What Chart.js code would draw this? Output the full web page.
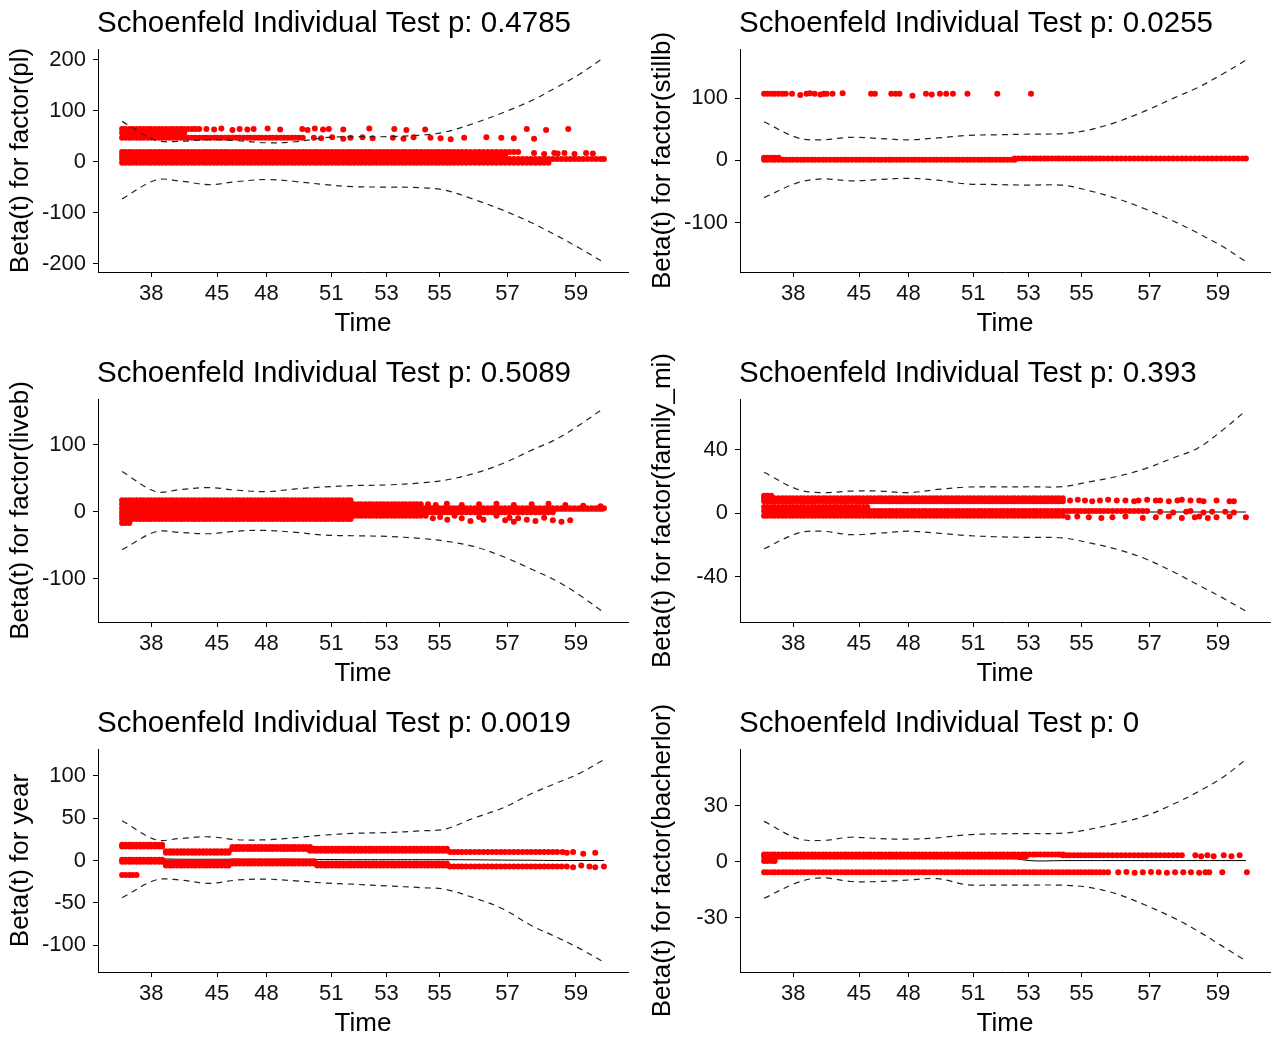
<!DOCTYPE html>
<html><head><meta charset="utf-8">
<script src="https://cdn.jsdelivr.net/npm/chart.js@4.4.0/dist/chart.umd.min.js"></script>
<style>
html,body{margin:0;padding:0;background:#fff;}
#wrap{position:relative;width:1274px;height:1039px;overflow:hidden;background:#fff;}
.panel{position:absolute;}
canvas{display:block;}
</style></head><body><div id="wrap"></div>
<script>
// ---------- shared data ----------
const titles = ['Schoenfeld Individual Test p: 0.4785','Schoenfeld Individual Test p: 0.0255','Schoenfeld Individual Test p: 0.5089','Schoenfeld Individual Test p: 0.393','Schoenfeld Individual Test p: 0.0019','Schoenfeld Individual Test p: 0'];
const yLabels = ['Beta(t) for factor(pl)','Beta(t) for factor(stillb)','Beta(t) for factor(liveb)','Beta(t) for factor(family_mi)','Beta(t) for year','Beta(t) for factor(bacherlor)'];
const xLabel = 'Time';
// transformed time positions of the tick labels
const timeTickPos = [6.06, 19.7, 29.95, 43.4, 54.9, 65.9, 80.0, 94.2];
const timeTickLabels = ['38','45','48','51','53','55','57','59'];
// transformed event times (shared by every covariate)
const eventX = [0,0.7,1.5,2.2,3.0,3.8,4.5,5.3,6.0,6.8,7.6,8.3,9.1,9.9,10.6,11.4,12.2,12.9,13.7,14.5,15.2,16.0,16.8,17.5,18.3,19.1,19.8,20.6,21.4,22.1,22.9,23.7,24.4,25.2,26.0,26.7,27.5,28.3,29.0,29.8,30.6,31.3,32.1,32.9,33.6,34.4,35.2,35.9,36.7,37.5,38.2,39.0,39.8,40.5,41.3,42.1,42.8,43.6,44.4,45.1,45.9,46.7,47.4,48.2,49.0,49.7,50.5,51.3,52.0,52.8,53.6,54.3,55.1,55.9,56.6,57.4,58.2,58.9,59.7,60.5,61.2,62.0,62.8,63.5,64.3,65.1,65.8,66.6,67.4,68.1,68.9,69.7,70.5,71.4,72.3,73.2,74.1,75.0,75.9,76.8,77.7,78.6,79.5,80.4,81.3,82.2,83.1,84.0,84.9,85.8,86.7,87.6,88.5,89.4,90.3,91.2,92.1,93.0,93.9,94.8,95.7,96.6,97.5,98.4,99.3,100];
// x positions of the fitted curve / confidence band
const ciX = [0, 7, 12, 18, 24, 30, 36, 42, 48, 55, 62, 67, 73, 79, 85, 90, 95, 100];

// ---------- panel 1: pl ----------
const plTicks = [200, 100, 0, -100, -200];
const plRange = [-216.5, 221];
const plRows = [[19,0,83],[12,0,80],[5,0,100],[-2,0,89],[64,0,16],[56,0,13],[47,0,38]]; // [residual, fromTime, toTime]
const plScatterX = [17.5,19.1,20.6,22.9,24.4,26.0,27.3,30.2,32.8,37.4,38.5,40.0,41.7,42.9,45.9,51.3,56.5,59.0,62.9,84.0,88.0,92.6,
  39.8,41.3,43.6,45.9,47.4,49.9,52.0,56.2,58.4,60.5,64.0,66.1,68.2,71.0,75.6,78.7,81.3,85.5,
  85.5,87.6,89.7,90.4,91.8,93.9,96.3,97.7];
const plScatterY = [64,63,65,62,64,63,64,65,63,64,62,65,63,64,63,65,64,62,63,64,62,64,
  47,46,48,45,47,48,46,47,45,48,47,46,44,47,48,47,46,45,
  17,15,17,16,17,15,17,16];
const plUpper = [79, 42, 40, 43, 41, 37, 39, 47, 49, 49, 52, 58, 75, 96, 120, 145, 172, 204];
const plLower = [-73, -36, -38, -45, -39, -35, -39, -45, -49, -50, -51, -56, -74, -95, -120, -144, -170, -198];
const plBeta = [3, 3, 2, 1, 1, 1, 1, 1, 1, 1, 1, 1, 1, 1, 2, 2, 2, 3];

// ---------- panel 2: stillb ----------
const stTicks = [100, 0, -100];
const stRange = [-179.7, 179];
const stRows = [[1,0,52],[3,52,100],[4,0,3],[107,0,5]];
const stScatterX = [5.8,7.5,8.8,9.5,10.5,11.7,12.4,13.0,14.2,16.3,22.2,23.0,26.4,27.3,28.1,30.8,33.6,34.8,36.5,37.8,39.2,42.2,48.4,55.4];
const stScatterY = [107,105,107,108,107,106,107,107,107,108,107,107,107,107,107,104,107,106,107,107,107,107,107,107];
const stUpper = [62, 36, 33, 37, 35, 33, 36, 40, 41, 42, 43, 48, 61, 79, 100, 117, 138, 161];
const stLower = [-60, -36, -30, -33, -31, -29, -32, -38, -39, -40, -40, -48, -61, -78, -98, -117, -138, -163];
const stBeta = [2, 1, 1, 1, 1, 1, 1, 1, 1, 1, 1, 1, 1, 1, 1, 1, 1, 1];

// ---------- panel 3: liveb ----------
const lbTicks = [100, 0, -100];
const lbRange = [-165, 168.5];
const lbRows = [[17,0,48],[11,0,62],[5,0,100],[-1,0,90],[-6,0,62],[-11,0,48],[-17,0,1.5]];
const lbScatterX = [63,64.5,66,67.5,69,70.5,72.3,74.1,75,77.7,79.5,80.4,81.3,82.2,84,85.8,87.6,89.4,91.2,93,
  63.5,65.1,67.4,70.5,74.1,77.7,81.3,85,88.5,92,95.7,99.3];
const lbScatterY = [-6,-10,-8,-12,-6,-10,-14,-8,-12,-6,-13,-9,-15,-10,-12,-14,-9,-13,-15,-13,
  11,10,12,10,11,12,10,11,12,10,9,8];
const lbUpper = [60, 30, 33, 36, 32, 30, 34, 37, 39, 40, 43, 47, 57, 72, 92, 108, 130, 155];
const lbLower = [-57, -30, -31, -33, -29, -28, -31, -35, -36, -37, -40, -44, -52, -67, -86, -103, -125, -151];
const lbBeta = [2, 2, 2, 2, 2, 2, 2, 2, 2, 1, 1, 1, 1, 1, 1, 1, 1, 1];

// ---------- panel 4: family_mi ----------
const fmTicks = [40, 0, -40];
const fmRange = [-68.5, 72];
const fmRows = [[11,0,1.5],[9.5,0,62],[7.5,0,62],[4,0,22],[1.5,0,80],[-1.5,0,62]];
const fmScatterX = [63.5,65.1,66.6,68.1,69.7,71.4,73.2,75,76.8,77.7,79.5,81.3,82.2,84,85.8,86.7,88.5,90.3,91.2,93.9,96.6,97.5,
  63,65,67.4,70,72.3,75,78.6,81.3,84,86.7,89.4,90.3,92.1,93.9,96.6,100,
  82.2,84.9,87.6,88.5,91.2,93,95.7,97.5];
const fmScatterY = [8,8.5,8,7.5,8,8.5,8,8,7.5,8,8.5,8,8,7.5,8,8.5,8,8,7.5,8,7.5,7.5,
  -2.5,-2,-2.5,-3,-2.5,-2,-3,-2.5,-2,-3,-2.5,-2,-3,-2.5,-2,-2.5,
  1,0.5,1,1.5,0.5,1,1,0.5];
const fmUpper = [25.8, 15, 13, 14, 14, 13, 15, 16.5, 16.6, 16.7, 16.8, 19.5, 23, 28, 35, 41, 52, 64.7];
const fmLower = [-22.4, -12.5, -11.3, -13.5, -12.5, -11.3, -12.5, -14, -14.8, -15.2, -15.5, -18.3, -22.5, -28.5, -37, -45, -53, -61.7];
const fmBeta = [1, 1, 1, 1, 1, 1, 1, 1, 1, 1, 0.8, 0.8, 0.8, 0.8, 0.8, 0.8, 0.8, 0.8];

// ---------- panel 5: year ----------
const yrTicks = [100, 50, 0, -50, -100];
const yrRange = [-131.6, 131.6];
const yrRows = [[18.5,0,8.6],[16.5,0,8.6],[11,8.6,22.2],[9,8.6,22.2],[16,22.2,39],[13.5,22.2,39],[14,39,68],[11.5,39,68],[10,68,91],
  [1,0,8.6],[-1.5,0,8.6],[-2,8.6,22.2],[-6,8.6,22.2],[-1,22.2,40],[-3.5,22.2,68],[-6,40,68],[-7,68,91],[-17,0,3.5]];
const yrScatterX = [91.4,92.3,93.6,95.7,98.2, 91.2,92.3,93.6,95.3,97,98.2,100];
const yrScatterY = [10,9,10,8,9, -7,-7,-8,-6,-7,-8,-7];
const yrUpper = [47, 24.5, 26, 28, 24.5, 24.5, 27, 30, 32, 33, 35, 37, 50, 62, 79, 91, 103, 119];
const yrLower = [-44, -23, -23, -27, -23, -22, -24, -26.5, -28, -30, -32, -34, -44, -57, -77, -90, -104, -120];
const yrBeta = [2, 2, 1.5, 1.5, 1.5, 1.5, 1.5, 1.2, 1, 1, 1, 1, 0.8, 0.5, 0.3, 0, 0, 0];

// ---------- panel 6: bacherlor ----------
const baTicks = [30, 0, -30];
const baRange = [-59, 60.5];
const baRows = [[4,0,62],[2.8,0,55],[0.5,0,2.2],[3.5,62,87],[-5.6,0,72]];
const baScatterX = [89.5,90.7,92,93.3,95.4,97,98.7,
  73.5,75.2,76.9,78.6,80.3,81.9,83.6,85.3,87,88.6,90.3,91.6,92.4,95.1,100.2];
const baScatterY = [3.5,3,3.5,3,3.5,3,3.5,
  -5.6,-5.4,-5.8,-5.6,-5.4,-5.6,-5.8,-5.6,-5.5,-5.6,-5.8,-5.6,-5.5,-5.6,-5.6];
const baUpper = [21.7, 12.5, 11.5, 13.2, 12.5, 12.2, 12.9, 14.5, 15, 15.2, 15.4, 17.2, 20.5, 24.5, 31, 37.5, 45, 54.8];
const baLower = [-19.5, -11, -8.5, -10.5, -10.5, -9.7, -9, -12.2, -12.4, -12.4, -12.5, -13.5, -17, -23, -30, -37, -45, -53];
const baBeta = [3.5, 3.5, 3.5, 3.5, 3.5, 3.5, 3.5, 3.5, 3.5, 0.7, 0.7, 0.7, 0.7, 0.7, 0.7, 0.7, 0.7, 0.7];

// ---------- build ----------
Chart.defaults.font.family = '"Liberation Sans", Arial, Helvetica, sans-serif';
Chart.defaults.color = '#000';

const titlePlugin = {
  id: 'panelTitle',
  afterDraw(chart, args, opts) {
    const {ctx, chartArea} = chart;
    ctx.save();
    ctx.font = '29.5px "Liberation Sans", Arial, sans-serif';
    ctx.fillStyle = '#000';
    ctx.textAlign = 'left';
    ctx.textBaseline = 'alphabetic';
    ctx.fillText(opts.text, chartArea.left - 1, chartArea.top - 17.5);
    ctx.restore();
  }
};
Chart.register(titlePlugin);

function residualPoints(rows, sx, sy) {
  const pts = [];
  rows.forEach(([y, a, b]) => eventX.forEach(x => { if (x >= a && x <= b) pts.push({x: x, y: y}); }));
  sx.forEach((x, i) => pts.push({x: x, y: sy[i]}));
  return pts;
}
function curve(ys) { return ciX.map((x, i) => ({x: x, y: ys[i]})); }

const panels = [
  {rows: plRows, sx: plScatterX, sy: plScatterY, up: plUpper, lo: plLower, beta: plBeta, range: plRange, ticks: plTicks},
  {rows: stRows, sx: stScatterX, sy: stScatterY, up: stUpper, lo: stLower, beta: stBeta, range: stRange, ticks: stTicks},
  {rows: lbRows, sx: lbScatterX, sy: lbScatterY, up: lbUpper, lo: lbLower, beta: lbBeta, range: lbRange, ticks: lbTicks},
  {rows: fmRows, sx: fmScatterX, sy: fmScatterY, up: fmUpper, lo: fmLower, beta: fmBeta, range: fmRange, ticks: fmTicks},
  {rows: yrRows, sx: yrScatterX, sy: yrScatterY, up: yrUpper, lo: yrLower, beta: yrBeta, range: yrRange, ticks: yrTicks},
  {rows: baRows, sx: baScatterX, sy: baScatterY, up: baUpper, lo: baLower, beta: baBeta, range: baRange, ticks: baTicks}
];

const colLeft = [0, 642];
const rowTop = [0, 340, 690];
const rowHeight = [339, 349, 349];
const rowPadTop = [49, 59, 59];
const W = 632;

const wrap = document.getElementById('wrap');
panels.forEach((p, k) => {
  const c = k % 2, r = Math.floor(k / 2);
  const div = document.createElement('div');
  div.className = 'panel';
  div.style.left = colLeft[c] + 'px';
  div.style.top = rowTop[r] + 'px';
  const cv = document.createElement('canvas');
  cv.width = W; cv.height = rowHeight[r];
  cv.style.width = W + 'px'; cv.style.height = rowHeight[r] + 'px';
  div.appendChild(cv);
  wrap.appendChild(div);

  const dashed = {showLine: true, borderColor: '#222', borderWidth: 1.2, borderDash: [6, 5], pointRadius: 0, tension: 0.35, order: 0};
  const axisGrid = {drawOnChartArea: false, drawTicks: true, tickLength: 5, color: '#000', lineWidth: 1};
  const axisBorder = {display: true, color: '#000', width: 1};

  new Chart(cv, {
    type: 'scatter',
    data: {datasets: [
      Object.assign({label: 'upper', data: curve(p.up)}, dashed),
      Object.assign({label: 'lower', data: curve(p.lo)}, dashed),
      {label: 'resid', data: residualPoints(p.rows, p.sx, p.sy), pointRadius: 3, pointBorderWidth: 0,
       pointBackgroundColor: '#ff0000', backgroundColor: '#ff0000', borderColor: '#ff0000', order: 1},
      {label: 'beta', data: curve(p.beta), showLine: true, borderColor: '#000', borderWidth: 1, pointRadius: 0, tension: 0.35, order: 2}
    ]},
    options: {
      responsive: false, animation: false, devicePixelRatio: 1,
      layout: {padding: {left: 0, right: 2, top: rowPadTop[r], bottom: 0}},
      plugins: {legend: {display: false}, tooltip: {enabled: false}, panelTitle: {text: titles[k]}},
      scales: {
        x: {type: 'linear', min: -5, max: 105,
          afterBuildTicks: s => { s.ticks = timeTickPos.map(v => ({value: v})); },
          afterFit: s => { s.height = 67; },
          ticks: {autoSkip: false, maxRotation: 0, minRotation: 0, padding: 4, color: '#111', font: {size: 22},
            callback: (v, i) => timeTickLabels[i]},
          grid: axisGrid, border: axisBorder,
          title: {display: true, text: xLabel, color: '#000', font: {size: 26}, padding: {top: 0, bottom: 0}}},
        y: {type: 'linear', min: p.range[0], max: p.range[1],
          afterBuildTicks: s => { s.ticks = p.ticks.map(v => ({value: v})); },
          afterFit: s => { s.width = 98; },
          ticks: {autoSkip: false, padding: 7, color: '#111', font: {size: 22}, callback: v => String(v)},
          grid: axisGrid, border: axisBorder,
          title: {display: true, text: yLabels[k], color: '#000', font: {size: 26}, padding: {top: 5, bottom: 0}}}
      }
    }
  });
});
</script></body></html>
